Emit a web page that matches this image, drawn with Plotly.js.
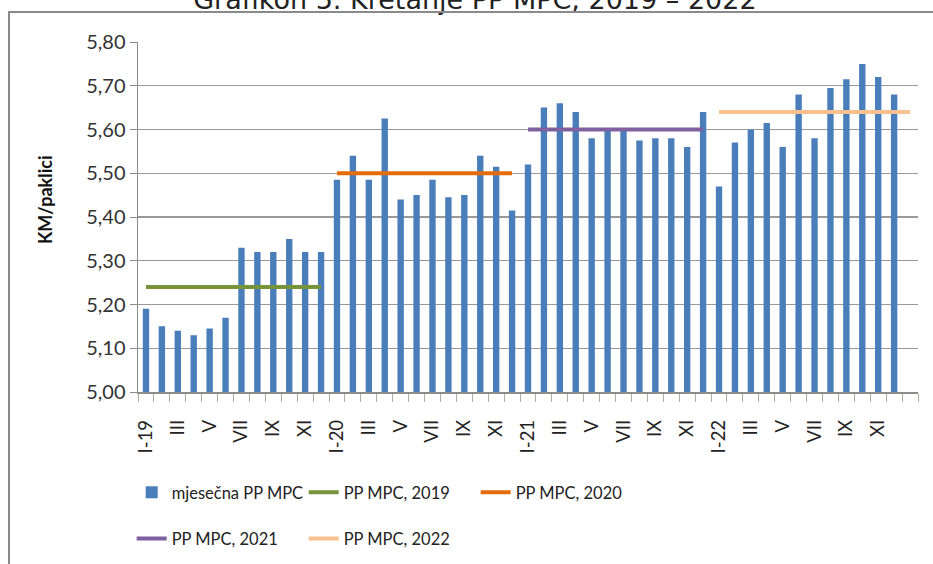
<!DOCTYPE html>
<html>
<head>
<meta charset="utf-8">
<script src="https://cdn.plot.ly/plotly-3.0.1.min.js"></script>
<style>
  html, body { margin: 0; padding: 0; background: #fff; }
  #wrap { position: relative; width: 933px; height: 564px; overflow: hidden; }
  #chart { width: 933px; height: 564px; }
  #frame { position: absolute; left: 8px; top: 11px; width: 940px; height: 600px;
           border-left: 2px solid #8a8a8a; border-top: 2px solid #8a8a8a; pointer-events: none; }
</style>
</head>
<body>
<div id="wrap">
  <div id="chart"></div>
  <div id="frame"></div>
</div>
<script>
// Month labels (49 categories, last one empty)
const monthLabels = [
  "I-19","II","III","IV","V","VI","VII","VIII","IX","X","XI","XII",
  "I-20","II","III","IV","V","VI","VII","VIII","IX","X","XI","XII",
  "I-21","II","III","IV","V","VI","VII","VIII","IX","X","XI","XII",
  "I-22","II","III","IV","V","VI","VII","VIII","IX","X","XI","XII",
  ""
];
// Monthly average retail price (KM/pack)
const monthlyPrice = [
  5.19, 5.15, 5.14, 5.13, 5.145, 5.17, 5.33, 5.32, 5.32, 5.35, 5.32, 5.32,
  5.485, 5.54, 5.485, 5.625, 5.44, 5.45, 5.485, 5.445, 5.45, 5.54, 5.515, 5.415,
  5.52, 5.65, 5.66, 5.64, 5.58, 5.60, 5.60, 5.575, 5.58, 5.58, 5.56, 5.64,
  5.47, 5.57, 5.60, 5.615, 5.56, 5.68, 5.58, 5.695, 5.715, 5.75, 5.72, 5.68,
  null
];
// Yearly averages and the category span each covers
const avgNames  = ["PP MPC, 2019", "PP MPC, 2020", "PP MPC, 2021", "PP MPC, 2022"];
const avgValues = [5.24, 5.50, 5.60, 5.64];
const avgFrom   = ["I-19", "I-20", "I-21", "I-22"];
const avgToIdx  = [11, 23, 35, 48];
const avgColors = ["#77933c", "#e46c0a", "#7f60a0", "#fac090"];
const avgLegend = ["legend", "legend", "legend2", "legend2"];

const xIdx = monthLabels.map((_, i) => i);
const tickVals = xIdx.filter(i => i % 2 === 0 && monthLabels[i] !== "");
const tickText = tickVals.map(i => monthLabels[i]);

const traces = [{
  type: "bar",
  name: "mjesečna PP MPC",
  x: xIdx,
  y: monthlyPrice,
  width: 0.4,
  marker: { color: "#4a7ebb" },
  legend: "legend",
  hoverinfo: "y"
}];
avgValues.forEach((v, k) => {
  const from = monthLabels.indexOf(avgFrom[k]);
  traces.push({
    type: "scatter",
    mode: "lines",
    name: avgNames[k],
    x: [from, avgToIdx[k]],
    y: [v, v],
    line: { color: avgColors[k], width: 4 },
    legend: avgLegend[k]
  });
});

const legendCommon = {
  orientation: "h",
  xanchor: "left",
  yanchor: "top",
  x: -0.0081,
  font: { family: "Lato, sans-serif", size: 16.5, color: "#222" },
  entrywidth: 127,
  entrywidthmode: "pixels",
  bgcolor: "rgba(0,0,0,0)",
  traceorder: "normal"
};

const layout = {
  width: 933,
  height: 564,
  margin: { l: 138.3, r: 14.7, t: 41.7, b: 172.3, pad: 0, autoexpand: false },
  paper_bgcolor: "#fff",
  plot_bgcolor: "#fff",
  separators: ",.",
  showlegend: true,
  title: {
    text: "Grafikon 5. Kretanje PP MPC, 2019 – 2022",
    font: { family: "DejaVu Sans, sans-serif", size: 27, color: "#222" },
    x: 0.509, xanchor: "center", xref: "container",
    y: 1, yanchor: "middle", yref: "container"
  },
  xaxis: {
    type: "linear",
    range: [-0.5, 48.5],
    tickmode: "array",
    tickvals: tickVals,
    ticktext: tickText,
    tickangle: -90,
    ticks: "",
    ticklabelstandoff: 19,
    tickfont: { family: "Lato, sans-serif", size: 18.5, color: "#222" },
    showgrid: false,
    zeroline: false,
    showline: true,
    linecolor: "#8c8c8c",
    linewidth: 1.5,
    minor: { tick0: 0.5, dtick: 1, ticks: "outside", ticklen: 8, tickcolor: "#b5aa9c", tickwidth: 1, showgrid: false },
    fixedrange: true
  },
  yaxis: {
    range: [5.0, 5.8],
    dtick: 0.1,
    tick0: 5.0,
    tickformat: ".2f",
    ticks: "outside",
    ticklen: 7,
    tickcolor: "#8c8c8c",
    tickfont: { family: "Lato, sans-serif", size: 20, color: "#333" },
    showgrid: true,
    gridcolor: "#999999",
    gridwidth: 1.4,
    zeroline: false,
    showline: true,
    linecolor: "#8c8c8c",
    linewidth: 1.5,
    fixedrange: true
  },
  legend: Object.assign({}, legendCommon, { y: -0.237 }),
  legend2: Object.assign({}, legendCommon, { y: -0.369 }),
  annotations: [{
    text: "<b>KM/paklici</b>",
    textangle: -90,
    xref: "paper", yref: "paper",
    x: -0.119, y: 0.549,
    xanchor: "center", yanchor: "middle",
    showarrow: false,
    font: { family: "Lato, sans-serif", size: 18, color: "#111" }
  }]
};

Plotly.newPlot("chart", traces, layout, { displayModeBar: false, staticPlot: true });
</script>
</body>
</html>
